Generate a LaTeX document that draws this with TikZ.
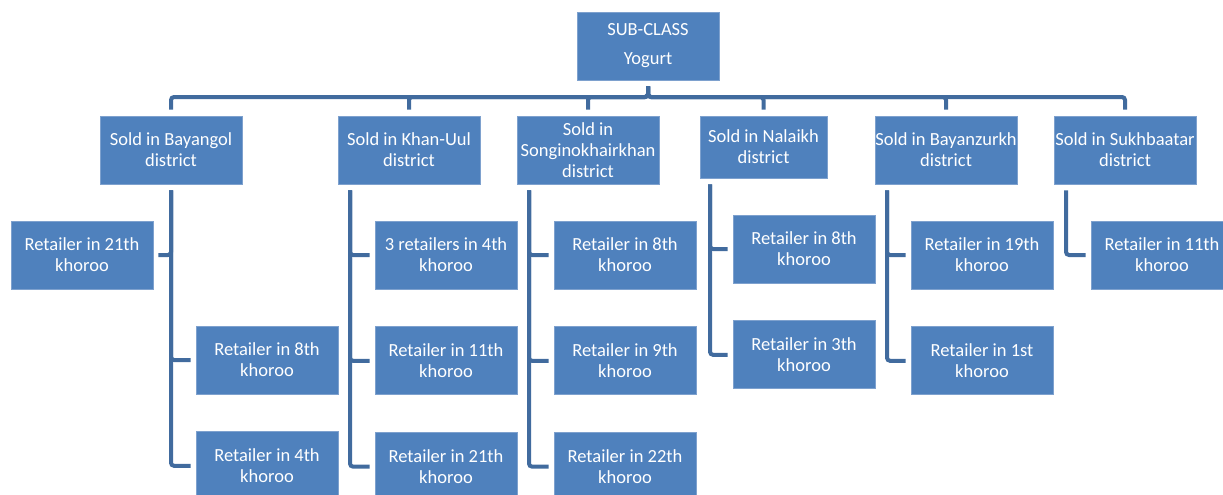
\documentclass[tikz,border=0pt]{standalone}
\usepackage{fontspec}
\setmainfont{Carlito}
\usetikzlibrary{positioning}
\definecolor{BoxBlue}{RGB}{79,129,189}
\definecolor{BoxEdge}{RGB}{126,161,206}
\definecolor{LineBlue}{RGB}{65,107,158}

\begin{document}
\begin{tikzpicture}[x=1pt,y=-1pt,
        box/.style={fill=BoxBlue,draw=BoxEdge,line width=0.8pt,text=white,
                    font=\fontsize{18.5}{21}\selectfont,minimum width=142pt,
                    minimum height=68pt,inner sep=0pt,align=center},
        conn/.style={LineBlue,line width=4pt,rounded corners=3pt}
      ]
        \useasboundingbox (0,0) rectangle (1223,495);
        % top and districts
        \node[box] (sub) at (648,46) {SUB-CLASS\\[8pt]Yogurt};
        \node[box] (bayangol) at (171,150) {Sold in Bayangol\\district};
        \node[box] (khanuul) at (409,150) {Sold in Khan-Uul\\district};
        \node[box] (songino) at (588,150) {Sold in\\Songinokhairkhan\\district};
        \node[box,minimum width=127pt,minimum height=62pt] (nalaikh) at (763.5,147) {Sold in Nalaikh\\district};
        \node[box] (bayanzurkh) at (946,150) {Sold in Bayanzurkh\\district};
        \node[box] (sukhbaatar) at (1125,150) {Sold in Sukhbaatar\\district};
        % retailers
        \node[box] (ba1) at (82,255) {Retailer in 21th\\khoroo};
        \node[box] (ba2) at (267,360) {Retailer in 8th\\khoroo};
        \node[box,below=37pt of ba2] (ba3) {Retailer in 4th\\khoroo};
        \node[box] (ku1) at (446,255) {3 retailers in 4th\\khoroo};
        \node[box,below=37pt of ku1] (ku2) {Retailer in 11th\\khoroo};
        \node[box,below=37pt of ku2] (ku3) {Retailer in 21th\\khoroo};
        \node[box] (so1) at (625,255) {Retailer in 8th\\khoroo};
        \node[box,below=37pt of so1] (so2) {Retailer in 9th\\khoroo};
        \node[box,below=37pt of so2] (so3) {Retailer in 22th\\khoroo};
        \node[box] (na1) at (804,249) {Retailer in 8th\\khoroo};
        \node[box,below=37pt of na1] (na2) {Retailer in 3th\\khoroo};
        \node[box] (bz1) at (982,255) {Retailer in 19th\\khoroo};
        \node[box,below=37pt of bz1] (bz2) {Retailer in 1st\\khoroo};
        \node[box] (sb1) at (1162,255) {Retailer in 11th\\khoroo};
        % bus
        \coordinate (bus) at (648,97);
        \foreach \d in {bayangol,khanuul,songino,nalaikh,bayanzurkh,sukhbaatar}
          \draw[conn] ([yshift=-6pt]sub.south) -- (bus) -| ([yshift=6pt]\d.north);
        % district to retailers
        \draw[conn] ([yshift=-6pt]bayangol.south) |- ([xshift=5pt]ba1.east);
        \draw[conn] ([yshift=-6pt]bayangol.south) |- ([xshift=-5pt]ba2.west);
        \draw[conn] ([yshift=-6pt]bayangol.south) |- ([xshift=-5pt]ba3.west);
        \draw[conn] ([xshift=-59pt,yshift=-6pt]khanuul.south) |- ([xshift=-5pt]ku1.west);
        \draw[conn] ([xshift=-59pt,yshift=-6pt]khanuul.south) |- ([xshift=-5pt]ku2.west);
        \draw[conn] ([xshift=-59pt,yshift=-6pt]khanuul.south) |- ([xshift=-5pt]ku3.west);
        \draw[conn] ([xshift=-59pt,yshift=-6pt]songino.south) |- ([xshift=-5pt]so1.west);
        \draw[conn] ([xshift=-59pt,yshift=-6pt]songino.south) |- ([xshift=-5pt]so2.west);
        \draw[conn] ([xshift=-59pt,yshift=-6pt]songino.south) |- ([xshift=-5pt]so3.west);
        \draw[conn] ([xshift=-53.5pt,yshift=-6pt]nalaikh.south) |- ([xshift=-5pt]na1.west);
        \draw[conn] ([xshift=-53.5pt,yshift=-6pt]nalaikh.south) |- ([xshift=-5pt]na2.west);
        \draw[conn] ([xshift=-59pt,yshift=-6pt]bayanzurkh.south) |- ([xshift=-5pt]bz1.west);
        \draw[conn] ([xshift=-59pt,yshift=-6pt]bayanzurkh.south) |- ([xshift=-5pt]bz2.west);
        \draw[conn] ([xshift=-59pt,yshift=-6pt]sukhbaatar.south) |- ([xshift=-5pt]sb1.west);
      \end{tikzpicture}
\end{document}
